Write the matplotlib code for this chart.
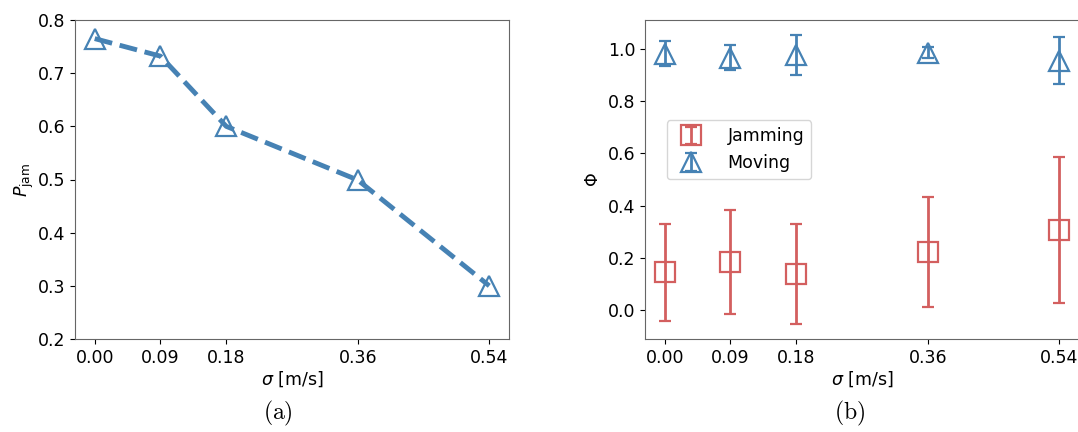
import numpy as np
import matplotlib
matplotlib.use("Agg")
import matplotlib.pyplot as plt

sigma = [0.00, 0.09, 0.18, 0.36, 0.54]
tick_labels = ["0.00", "0.09", "0.18", "0.36", "0.54"]

# panel (a)
p_jam = [0.765, 0.732, 0.600, 0.499, 0.300]

# panel (b)
jam_mean = [0.145, 0.184, 0.139, 0.223, 0.307]
jam_err = [0.186, 0.198, 0.191, 0.211, 0.280]
mov_mean = [0.981, 0.966, 0.977, 0.985, 0.955]
mov_err = [0.048, 0.049, 0.077, 0.020, 0.089]

BLUE = "#4682b4"
RED = "#d35f5f"
SPINE = "#666666"

plt.rcParams["font.size"] = 12.5

fig = plt.figure(figsize=(10.78, 4.32), dpi=100)
ax1 = fig.add_axes([75 / 1078, 93 / 432, 434 / 1078, 319 / 432])
ax2 = fig.add_axes([645 / 1078, 93 / 432, 434 / 1078, 319 / 432])

ax1.plot(sigma, p_jam, linestyle="--", color=BLUE, linewidth=3.5,
         marker="^", markersize=14, markerfacecolor="none",
         markeredgecolor=BLUE, markeredgewidth=1.6)
ax1.set_ylim(0.2, 0.8)
ax1.set_ylabel(r"$P_{\rm jam}$", labelpad=1)

ax2.errorbar(sigma, jam_mean, yerr=jam_err, fmt="s", color=RED,
             markersize=14, markerfacecolor="none", markeredgewidth=1.6,
             elinewidth=2, capsize=4, capthick=2, label="Jamming")
ax2.errorbar(sigma, mov_mean, yerr=mov_err, fmt="^", color=BLUE,
             markersize=14, markerfacecolor="none", markeredgewidth=1.6,
             elinewidth=2, capsize=4, capthick=2, label="Moving")
ax2.set_ylim(-0.11, 1.11)
ax2.set_yticks([0.0, 0.2, 0.4, 0.6, 0.8, 1.0])
ax2.set_ylabel(r"$\Phi$")
ax2.legend(loc="upper left", bbox_to_anchor=(0.05, 0.685), borderaxespad=0,
           handletextpad=1.1, fontsize=12.5)

for ax in (ax1, ax2):
    ax.set_xticks(sigma)
    ax.set_xticklabels(tick_labels)
    ax.set_xlabel(r"$\sigma$ [m/s]", labelpad=2)
    for s in ax.spines.values():
        s.set_color(SPINE)

plt.rcParams["mathtext.fontset"] = "cm"
fig.text(278 / 1078, 1 - 413 / 432, r"$\mathrm{(a)}$", ha="center", va="center",
         fontsize=17)
fig.text(850 / 1078, 1 - 413 / 432, r"$\mathrm{(b)}$", ha="center", va="center",
         fontsize=17)

fig.savefig("out.png", dpi=100)
